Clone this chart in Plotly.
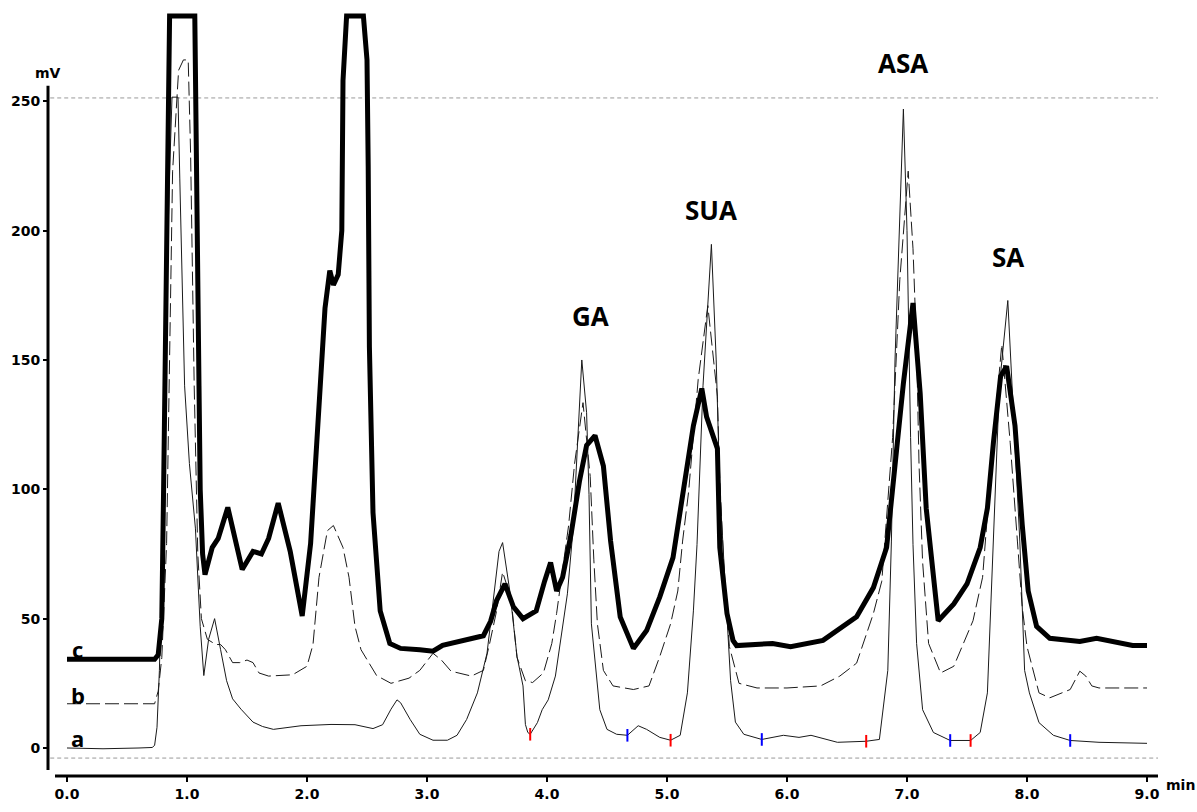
import plotly.graph_objects as go

# ---- data (min, mV) ----
t_a = [0, 0.3, 0.6, 0.71, 0.73, 0.75, 0.77, 0.79, 0.82, 0.85, 0.875, 0.925, 0.94, 0.96, 0.98, 1.02, 1.07,
       1.11, 1.14, 1.18, 1.23, 1.28, 1.33, 1.38, 1.45, 1.55, 1.63, 1.72, 1.95, 2.2, 2.4, 2.55, 2.63, 2.7,
       2.75, 2.78, 2.86, 2.94, 3.05, 3.17, 3.25, 3.33, 3.42, 3.5, 3.55, 3.6, 3.63, 3.69, 3.75, 3.8, 3.82,
       3.84, 3.86, 3.92, 3.96, 4.01, 4.07, 4.11, 4.17, 4.22, 4.25, 4.29, 4.33, 4.35, 4.37, 4.42, 4.44,
       4.5, 4.58, 4.67, 4.76, 4.83, 4.94, 5.03, 5.11, 5.17, 5.22, 5.25, 5.3, 5.37, 5.41, 5.44, 5.5, 5.53,
       5.57, 5.64, 5.79, 5.97, 6.1, 6.2, 6.42, 6.66, 6.77, 6.84, 6.87, 6.9, 6.97, 7.0, 7.03, 7.05, 7.08,
       7.13, 7.22, 7.36, 7.53, 7.61, 7.67, 7.71, 7.77, 7.84, 7.9, 7.94, 7.98, 8.02, 8.1, 8.22, 8.36, 8.6, 9.0]
v_a = [0, -0.3, 0, 0.2, 1, 8, 30, 70, 150, 215, 251.6, 251.6, 220, 180, 140, 110, 85,
       47, 28, 42, 50, 38, 26, 19, 15, 10, 8.3, 7.2, 8.6, 9.1, 9, 7.5, 9, 15,
       18.6, 17.5, 11, 5.3, 3, 3, 4.9, 11, 21.3, 36.6, 57, 76, 79.4, 60.7, 35.4, 24, 9.1,
       6, 5.3, 9.8, 14.8, 18.6, 27.8, 40.4, 59.6, 86, 112, 150, 129.6, 98, 48, 22.6, 14.8,
       7.2, 5.3, 4.9, 8.6, 7.2, 4.1, 3, 4.9, 21.3, 53, 78.6, 140, 194.7, 150, 100, 52, 26,
       10, 5.3, 3.3, 4.9, 4.1, 4.9, 2.2, 2.6, 3.3, 30, 80, 150, 247, 200, 120, 78.6, 40.4,
       14.8, 6, 2.9, 2.9, 6, 21.3, 66, 140, 173, 120, 80, 30, 21.3, 9.8, 4.9, 2.9, 2.2, 1.8]

t_b = [0, 0.73, 0.76, 0.79, 0.83, 0.88, 0.93, 0.97, 1.01, 1.03, 1.06, 1.09, 1.12, 1.17, 1.24, 1.28,
       1.32, 1.38, 1.44, 1.5, 1.55, 1.6, 1.68, 1.88, 2.0, 2.05, 2.1, 2.17, 2.22, 2.3, 2.35, 2.4, 2.45,
       2.58, 2.7, 2.85, 2.94, 3.05, 3.12, 3.2, 3.37, 3.47, 3.52, 3.58, 3.63, 3.7, 3.75, 3.82, 3.88,
       3.97, 4.04, 4.08, 4.18, 4.23, 4.3, 4.36, 4.39, 4.42, 4.47, 4.55, 4.72, 4.85, 4.94, 5.03, 5.09,
       5.13, 5.18, 5.26, 5.34, 5.39, 5.42, 5.44, 5.48, 5.52, 5.6, 5.75, 6.0, 6.28, 6.44, 6.58, 6.72,
       6.79, 6.88, 6.94, 7.01, 7.05, 7.08, 7.1, 7.13, 7.18, 7.28, 7.39, 7.47, 7.55, 7.63, 7.72, 7.79,
       7.86, 7.92, 7.96, 8.0, 8.06, 8.1, 8.19, 8.3, 8.36, 8.44, 8.49, 8.54, 8.6, 9.0]
v_b = [17.1, 17.1, 22, 35, 79, 223, 262, 266, 266, 230, 140, 75, 50, 42, 40, 40,
       38, 33, 33, 34, 33, 29, 27.8, 28.3, 31.6, 40, 66, 84, 86, 77.5, 66, 47, 38,
       28, 25, 27, 30, 36.6, 34, 29.7, 27.8, 30, 40, 53, 68, 58, 35, 26, 25.3,
       29, 40.4, 52, 86, 110, 133.5, 105, 73, 48, 30, 24, 22.6, 24, 35.4, 48, 60.7,
       80, 99, 142.5, 171, 149, 136, 103, 64.5, 39.2, 25, 23.2, 23.2, 24, 27.8, 32.8, 52,
       64.5, 120, 181, 223, 193, 155, 110, 72, 40.4, 29, 31.6, 40.4, 49.2, 66, 120, 156,
       118, 80, 54.6, 39.2, 27.8, 21.3, 19.4, 21.3, 22.6, 29.7, 27.8, 24, 23.2, 23.2]

t_c = [0, 0.73, 0.76, 0.79, 0.805, 0.82, 0.835, 0.845, 0.855, 1.065, 1.075, 1.09, 1.1, 1.11, 1.13,
       1.15, 1.21, 1.26, 1.34, 1.46, 1.55, 1.62, 1.68, 1.76, 1.86, 1.96, 2.03, 2.08, 2.12, 2.15,
       2.19, 2.22, 2.26, 2.29, 2.3, 2.33, 2.47, 2.5, 2.51, 2.52, 2.55, 2.61, 2.69, 2.78, 2.94, 3.05,
       3.13, 3.33, 3.47, 3.53, 3.58, 3.65, 3.72, 3.8, 3.91, 3.98, 4.03, 4.08, 4.13, 4.2, 4.27, 4.33,
       4.4, 4.47, 4.53, 4.61, 4.72, 4.83, 4.94, 5.05, 5.13, 5.22, 5.29, 5.33, 5.42, 5.44, 5.5, 5.55,
       5.58, 5.88, 6.03, 6.3, 6.58, 6.72, 6.83, 6.9, 6.97, 7.05, 7.11, 7.16, 7.22, 7.26, 7.39, 7.5,
       7.61, 7.67, 7.72, 7.78, 7.83, 7.9, 7.96, 8.01, 8.08, 8.19, 8.44, 8.58, 8.88, 9.0]
v_c = [34.3, 34.3, 36, 50, 100, 150, 200, 250, 283, 283, 250, 193, 140, 100, 75,
       67, 77.5, 81, 93, 69, 76, 75, 81, 94.7, 76, 51, 79, 117, 149, 170,
       184.6, 179, 183, 200, 258, 283, 283, 266, 225, 155, 91, 53, 40.4, 38.5, 38, 37.4,
       39.7, 41.6, 43.4, 49, 57, 63.4, 54.6, 50, 53, 64.5, 71.7, 60.7, 66, 82.5, 103, 117,
       120.8, 109, 80, 50.7, 38.5, 45.4, 58.4, 73.6, 99, 124.6, 139, 128, 115.7, 77.5, 52, 41.6,
       39.6, 40.4, 39.2, 41.6, 50.7, 62, 77.5, 109, 141, 172, 137, 92.7, 64.5, 49.2, 55.7, 63.4,
       77.5, 92.7, 118, 143.7, 147.6, 124.6, 86.4, 60.7, 47, 42.4, 41.2, 42.4, 39.6, 39.6]

red_t = [3.86, 5.03, 6.66, 7.53]
red_v = [5.3, 3.0, 2.6, 2.9]
blue_t = [4.67, 5.79, 7.36, 8.36]
blue_v = [4.9, 3.3, 2.9, 2.9]

peak_names = ["GA", "SUA", "ASA", "SA"]
peak_t = [4.36, 5.37, 6.97, 7.84]
peak_label_v = [167, 208, 265, 190]

trace_names = ["a", "b", "c"]
trace_label_v = [3.9, 20.6, 38.1]

y_ticks = [0, 50, 100, 150, 200, 250]
x_ticks = [0, 1, 2, 3, 4, 5, 6, 7, 8, 9]
x_tick_text = ["%.1f" % v for v in x_ticks]
ref_lines = [251.3, -3.9]

X_RANGE = [-0.1583, 9.0917]
Y_RANGE = [-10.83, 285.3]

fig = go.Figure()
fig.add_trace(go.Scatter(x=t_a, y=v_a, mode="lines", line=dict(color="#1a1a1a", width=1), hoverinfo="skip"))
fig.add_trace(go.Scatter(x=t_b, y=v_b, mode="lines", line=dict(color="#1a1a1a", width=1, dash="14px,5px"), hoverinfo="skip"))
fig.add_trace(go.Scatter(x=t_c, y=v_c, mode="lines", line=dict(color="#000000", width=5), hoverinfo="skip"))
fig.add_trace(go.Scatter(x=red_t, y=red_v, mode="markers",
                         marker=dict(symbol="line-ns", size=9, line=dict(color="#ff0000", width=2)), hoverinfo="skip"))
fig.add_trace(go.Scatter(x=blue_t, y=blue_v, mode="markers",
                         marker=dict(symbol="line-ns", size=9, line=dict(color="#0000ff", width=2)), hoverinfo="skip"))

# reference dotted lines
for yv in ref_lines:
    fig.add_shape(type="line", xref="paper", x0=0.002, x1=1.0, yref="y", y0=yv, y1=yv,
                  line=dict(color="#999999", width=1, dash="4px,3px"), layer="below")
# axis lines
fig.add_shape(type="line", xref="paper", x0=0, x1=0, yref="y", y0=-8.5, y1=256,
              line=dict(color="black", width=3))
fig.add_shape(type="line", xref="x", x0=-0.1, x1=X_RANGE[1], yref="paper", y0=0, y1=0,
              line=dict(color="black", width=3))

lab_font = dict(family="Open Sans", size=26, color="black", weight="bold")
for name, tx, vy in zip(peak_names, peak_t, peak_label_v):
    fig.add_annotation(x=tx, y=vy, text=name, showarrow=False, font=lab_font, xanchor="center", yanchor="middle")

for name, vy in zip(trace_names, trace_label_v):
    fig.add_annotation(x=0.09, y=vy, text=name, showarrow=False,
                       font=dict(family="Open Sans", size=22, color="black", weight="bold"),
                       xanchor="center", yanchor="middle")

ax_font = dict(family="DejaVu Sans", size=14, color="black", weight="bold")
fig.add_annotation(xref="paper", x=0.0, yref="y", y=260.8, text="mV", showarrow=False,
                   font=ax_font, xanchor="center", yanchor="middle")
fig.add_annotation(xref="paper", x=1.0, xshift=6, yref="paper", y=0, yshift=-9, text="min", showarrow=False,
                   font=ax_font, xanchor="left", yanchor="middle")

fig.update_layout(
    width=1197, height=812,
    margin=dict(l=48, r=39, t=10, b=28),
    paper_bgcolor="white", plot_bgcolor="white",
    showlegend=False,
    xaxis=dict(range=X_RANGE, tickvals=x_ticks, ticktext=x_tick_text, ticks="outside", ticklen=5,
               tickwidth=2, tickcolor="black", showgrid=False, zeroline=False, showline=False,
               tickfont=ax_font, fixedrange=True),
    yaxis=dict(range=Y_RANGE, tickvals=y_ticks, ticks="outside", ticklen=4, tickwidth=2,
               tickcolor="black", showgrid=False, zeroline=False, showline=False,
               tickfont=ax_font, fixedrange=True),
)

fig.write_html("out.html")
